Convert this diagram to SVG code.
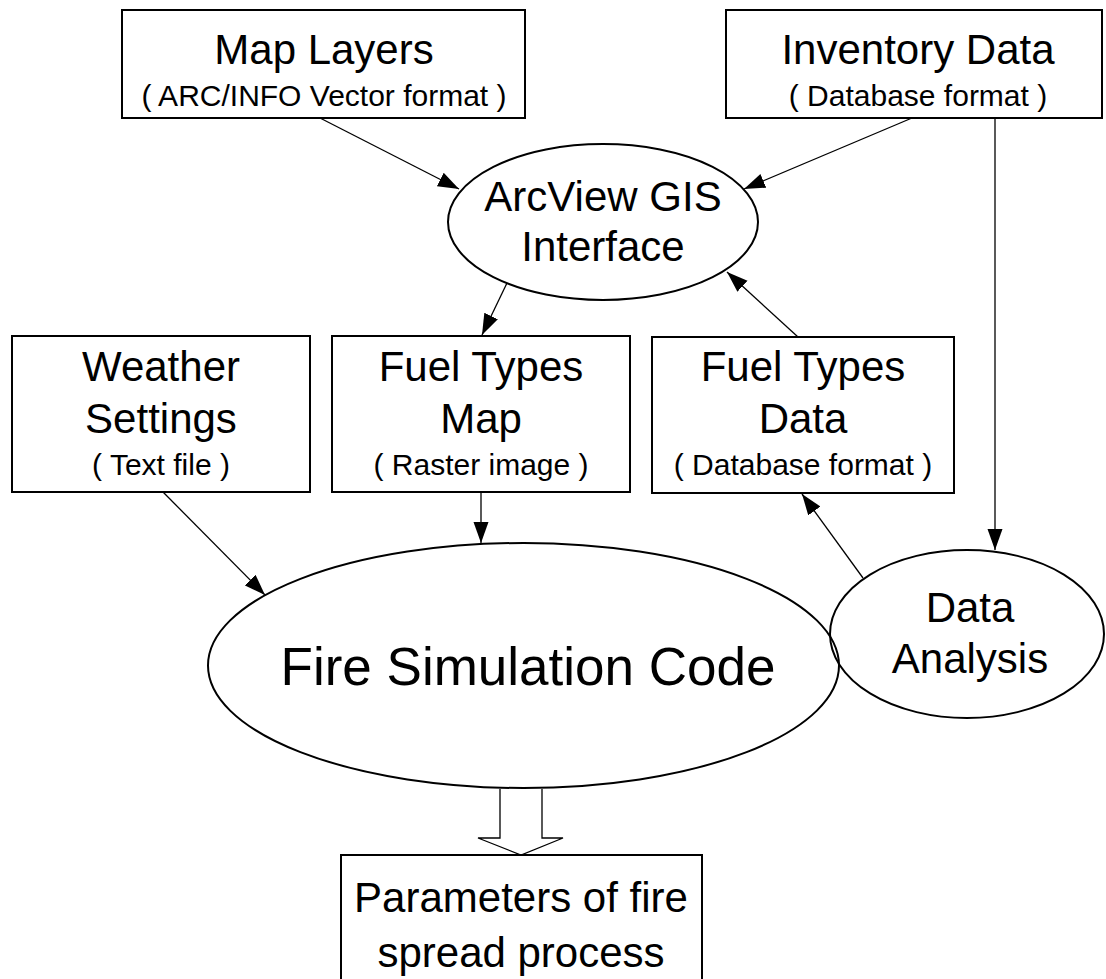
<svg xmlns="http://www.w3.org/2000/svg" width="1106" height="979" viewBox="0 0 1106 979">
<defs>
<marker id="ah" markerUnits="userSpaceOnUse" markerWidth="24" markerHeight="16" refX="21" refY="7.5" orient="auto">
<path d="M0,0 L21,7.5 L0,15 z" fill="#000"/>
</marker>
<style>
.box{fill:#fff;stroke:#000;stroke-width:2}
.ell{fill:#fff;stroke:#000;stroke-width:2}
.t{font-family:"Liberation Sans",Arial,sans-serif;font-size:42px;fill:#000;text-anchor:middle}
.s{font-family:"Liberation Sans",Arial,sans-serif;font-size:30px;fill:#000;text-anchor:middle}
.c{fill:none;stroke:#000;stroke-width:1.3}
</style>
</defs>
<rect width="1106" height="979" fill="#fff"/>
<g id="connectors">
<line class="c" x1="320" y1="118" x2="459" y2="189" marker-end="url(#ah)"/>
<line class="c" x1="912" y1="118" x2="744" y2="189" marker-end="url(#ah)"/>
<line class="c" x1="995" y1="118" x2="995" y2="550" marker-end="url(#ah)"/>
<line class="c" x1="507" y1="283" x2="482" y2="335" marker-end="url(#ah)"/>
<line class="c" x1="798" y1="337" x2="727" y2="272" marker-end="url(#ah)"/>
<line class="c" x1="163" y1="492" x2="265" y2="595" marker-end="url(#ah)"/>
<line class="c" x1="481" y1="492" x2="481" y2="543" marker-end="url(#ah)"/>
<line class="c" x1="863" y1="578" x2="802" y2="494" marker-end="url(#ah)"/>
<path d="M500,789 L500,838 L478,838 L521,855 L563,838 L542,838 L542,789" fill="#fff" stroke="#000" stroke-width="1.3"/>
</g>
<g id="map-layers">
<rect class="box" x="122" y="10" width="403" height="108"/>
<text class="t" x="324" y="64">Map Layers</text>
<text class="s" x="324" y="106">( ARC/INFO Vector format )</text>
</g>
<g id="inventory-data">
<rect class="box" x="726" y="10" width="376" height="108"/>
<text class="t" x="918" y="64">Inventory Data</text>
<text class="s" x="918" y="106">( Database format )</text>
</g>
<g id="arcview">
<ellipse class="ell" cx="603" cy="222" rx="155" ry="78"/>
<text class="t" x="603" y="211">ArcView GIS</text>
<text class="t" x="603" y="261">Interface</text>
</g>
<g id="weather">
<rect class="box" x="12" y="336" width="298" height="156"/>
<text class="t" x="161" y="381">Weather</text>
<text class="t" x="161" y="433">Settings</text>
<text class="s" x="161" y="475">( Text file )</text>
</g>
<g id="fuel-map">
<rect class="box" x="332" y="336" width="298" height="156"/>
<text class="t" x="481" y="381">Fuel Types</text>
<text class="t" x="481" y="433">Map</text>
<text class="s" x="481" y="475">( Raster image )</text>
</g>
<g id="fuel-data">
<rect class="box" x="652" y="337" width="302" height="156"/>
<text class="t" x="803" y="381">Fuel Types</text>
<text class="t" x="803" y="433">Data</text>
<text class="s" x="803" y="475">( Database format )</text>
</g>
<g id="fire-sim">
<ellipse class="ell" cx="523.5" cy="665.5" rx="315.5" ry="122.5"/>
<text class="t" x="528" y="685" style="font-size:53px">Fire Simulation Code</text>
</g>
<g id="data-analysis">
<ellipse cx="967" cy="634" rx="137" ry="84" fill="none" stroke="#000" stroke-width="2"/>
<text class="t" x="970" y="622">Data</text>
<text class="t" x="970" y="673">Analysis</text>
</g>
<g id="parameters">
<rect class="box" x="341" y="855" width="361" height="140"/>
<text class="t" x="521" y="912">Parameters of fire</text>
<text class="t" x="521" y="967">spread process</text>
</g>
</svg>
